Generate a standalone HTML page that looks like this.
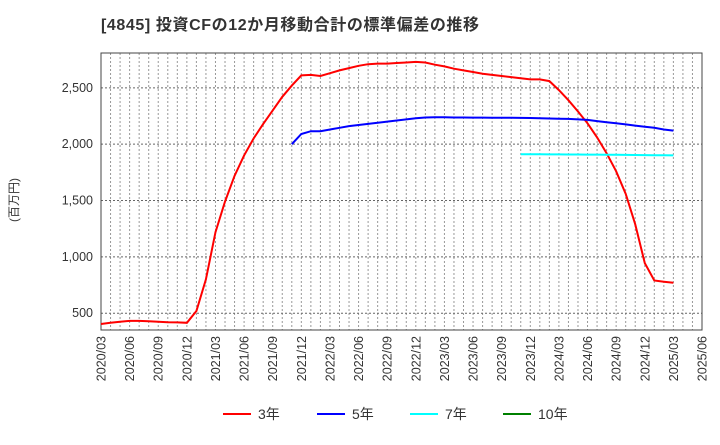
<!DOCTYPE html>
<html><head><meta charset="utf-8"><style>
body{margin:0;background:#fff;font-family:"Liberation Sans","Noto Sans CJK JP",sans-serif;}
svg text{font-family:"Liberation Sans","Noto Sans CJK JP",sans-serif;}
</style></head><body>
<svg id="c" width="720" height="440">
<text x="101" y="30" font-size="16" font-weight="bold" fill="#333" letter-spacing="0.6">[4845]  投資CFの12か月移動合計の標準偏差の推移</text>
<text transform="translate(18,200) rotate(-90)" font-size="12" fill="#333" text-anchor="middle">(百万円)</text>
<g id="grid"></g><g id="axes"></g><g id="series"></g><g id="legend"></g>
</svg>
<script>
const yTicks=[500,1000,1500,2000,2500];
const xTickLabels=["2020/03","2020/06","2020/09","2020/12","2021/03","2021/06","2021/09","2021/12","2022/03","2022/06","2022/09","2022/12","2023/03","2023/06","2023/09","2023/12","2024/03","2024/06","2024/09","2024/12","2025/03","2025/06"];
const red3=[404,415,425,432,432,428,425,420,418,415,520,800,1220,1490,1720,1900,2050,2180,2300,2420,2520,2610,2615,2605,2630,2655,2675,2695,2710,2715,2715,2720,2725,2730,2725,2705,2690,2670,2655,2640,2625,2615,2605,2595,2585,2575,2575,2560,2480,2390,2290,2185,2060,1920,1760,1560,1290,945,790,780,770];
const blue5Start=20;
const blue5=[2000,2090,2115,2115,2130,2145,2160,2170,2180,2190,2200,2210,2220,2230,2237,2238,2238,2237,2237,2236,2236,2235,2235,2234,2233,2232,2230,2228,2226,2224,2220,2215,2205,2195,2185,2175,2165,2155,2145,2130,2120];
const cyan7Start=44;
const cyan7=[1910,1910,1910,1909,1909,1908,1908,1907,1907,1906,1906,1905,1904,1903,1902,1901,1900];
const X0=101,X1=702,Y0=53,Y1=330,NM=63,VMIN=351,VMAX=2809;
const xs=i=>X0+(X1-X0)*i/NM;
const ys=v=>Y1-(v-VMIN)/(VMAX-VMIN)*(Y1-Y0);
const NS="http://www.w3.org/2000/svg";
function mk(t,a,p){const e=document.createElementNS(NS,t);for(const k in a)e.setAttribute(k,a[k]);p.appendChild(e);return e;}
const g=document.getElementById('grid'),ax=document.getElementById('axes'),s=document.getElementById('series'),lg=document.getElementById('legend');
for(let m=1;m<NM;m++){const l=mk('line',{x1:xs(m),x2:xs(m),y1:Y0,y2:Y1,stroke:'#999','stroke-dasharray':'2,2','stroke-width':1},g);

}
yTicks.forEach(v=>{const l=mk('line',{x1:X0,x2:X1,y1:ys(v),y2:ys(v),stroke:'#666','stroke-dasharray':'2,2','stroke-width':1},g);


const t=mk('text',{x:X0-8,y:ys(v)+4,'font-size':12.5,fill:'#333','text-anchor':'end'},ax);t.textContent=v.toLocaleString('en-US');

});
xTickLabels.forEach((lab,i)=>{const x=xs(i*3);const t=mk('text',{transform:`translate(${x+4.5},336) rotate(-90)`,'font-size':12.5,fill:'#333','text-anchor':'end'},ax);t.textContent=lab;

});
const fr=mk('rect',{x:X0,y:Y0,width:X1-X0,height:Y1-Y0,fill:'none',stroke:'#444','stroke-width':1},ax);


function line(arr,start,col,name){const p=arr.map((v,i)=>xs(start+i).toFixed(1)+','+ys(v).toFixed(1)).join(' ');const e=mk('polyline',{points:p,fill:'none',stroke:col,'stroke-width':2},s);

}
line(red3,0,'#ff0000','series-3y');
line(blue5,blue5Start,'#0000ff','series-5y');
line(cyan7,cyan7Start,'#00ffff','series-7y');
[['3年','#ff0000',223],['5年','#0000ff',317],['7年','#00ffff',410],['10年','#008000',503]].forEach(([n,c,x])=>{
const gi=mk('g',{},lg);


mk('line',{x1:x,x2:x+28,y1:414,y2:414,stroke:c,'stroke-width':2},gi);
const t=mk('text',{x:x+35,y:419,'font-size':14,fill:'#333'},gi);t.textContent=n;});
</script>
</body></html>
